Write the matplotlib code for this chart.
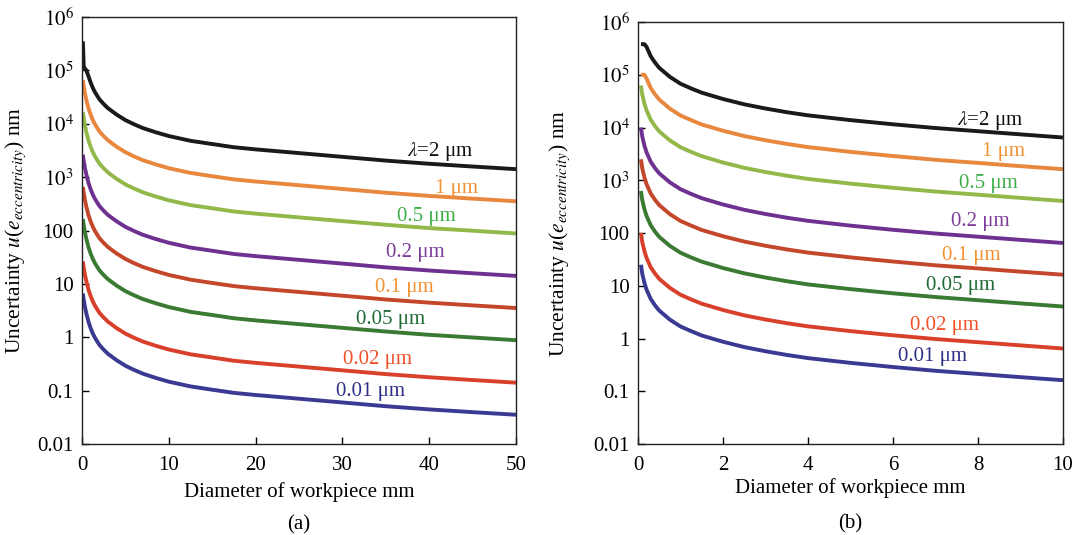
import matplotlib
matplotlib.use("Agg")
import matplotlib.pyplot as plt
from matplotlib.ticker import FixedLocator, FixedFormatter

plt.rcParams["font.family"] = ["Liberation Serif", "DejaVu Serif"]
plt.rcParams["mathtext.fontset"] = "stix"

# wavelength labels (top to bottom)
wave_labels = [r"$\lambda$=2 μm", "1 μm", "0.5 μm", "0.2 μm", "0.1 μm", "0.05 μm", "0.02 μm", "0.01 μm"]

# ---- panel (a): diameter 0-50 mm ----
d_a = [0.1, 0.2, 0.35, 0.5, 0.75, 1, 1.25, 1.5, 2, 2.5, 3, 4, 5, 6, 7, 8.5, 10,
       12.5, 15, 17.5, 20, 25, 30, 35, 40, 45, 50]
a_2um = [3.5e5, 1.15e5, 1.08e5, 1.0e5, 7.76e4, 5.89e4, 4.68e4, 3.89e4, 2.88e4, 2.34e4, 1.95e4,
         1.48e4, 1.17e4, 9.77e3, 8.32e3, 6.92e3, 5.89e3, 4.79e3, 4.17e3, 3.63e3, 3.31e3,
         2.82e3, 2.40e3, 2.04e3, 1.78e3, 1.58e3, 1.41e3]
a_1um = [6.6e4, 5.0e4, 3.63e4, 2.8e4, 1.94e4, 1.47e4, 1.17e4, 9.7e3, 7.2e3, 5.85e3, 4.88e3,
         3.7e3, 2.93e3, 2.44e3, 2.08e3, 1.73e3, 1.47e3, 1.2e3, 1.04e3, 908, 828,
         705, 600, 510, 445, 395, 353]
a_05um = [1.64e4, 1.25e4, 9.06e3, 7.0e3, 4.85e3, 3.68e3, 2.93e3, 2.43e3, 1.8e3, 1.46e3, 1.22e3,
          925, 731, 611, 520, 433, 368, 299, 261, 227, 207, 176, 150, 128, 111, 99, 88]
a_02um = [2630, 2000, 1450, 1120, 776, 589, 468, 389, 288, 234, 195,
          148, 117, 97.7, 83.2, 69.2, 58.9, 47.9, 41.7, 36.3, 33.1, 28.2, 24.0, 20.4, 17.8, 15.8, 14.1]
a_01um = [658, 500, 363, 280, 194, 147, 117, 97.3, 72, 58.5, 48.8,
          37, 29.3, 24.4, 20.8, 17.3, 14.7, 12.0, 10.4, 9.08, 8.28, 7.05, 6.0, 5.1, 4.45, 3.95, 3.53]
a_005um = [164, 125, 90.6, 70, 48.5, 36.8, 29.3, 24.3, 18, 14.6, 12.2,
           9.25, 7.31, 6.11, 5.2, 4.33, 3.68, 2.99, 2.61, 2.27, 2.07, 1.76, 1.5, 1.28, 1.11, 0.99, 0.88]
a_002um = [26.3, 20, 14.5, 11.2, 7.76, 5.89, 4.68, 3.89, 2.88, 2.34, 1.95,
           1.48, 1.17, 0.977, 0.832, 0.692, 0.589, 0.479, 0.417, 0.363, 0.331,
           0.282, 0.24, 0.204, 0.178, 0.158, 0.141]
a_001um = [6.58, 5.0, 3.63, 2.8, 1.94, 1.47, 1.17, 0.973, 0.72, 0.585, 0.488,
           0.37, 0.293, 0.244, 0.208, 0.173, 0.147, 0.12, 0.104, 0.0908, 0.0828,
           0.0705, 0.06, 0.051, 0.0445, 0.0395, 0.0353]
a_label_x = [41.3, 43.1, 39.7, 38.4, 37.1, 35.6, 34.0, 33.2]
a_label_y = [3.0e3, 600, 182, 38, 8.4, 2.11, 0.39, 0.095]

# ---- panel (b): diameter 0-10 mm ----
d_b = [0.07, 0.1, 0.15, 0.2, 0.3, 0.4, 0.5, 0.75, 1, 1.25, 1.5, 2, 2.5, 3, 3.5, 4, 5, 6, 7, 8, 9, 10]
b_2um = [3.8e5, 3.8e5, 3.8e5, 3.39e5, 2.24e5, 1.70e5, 1.35e5, 9.12e4, 6.76e4, 5.5e4, 4.57e4,
         3.47e4, 2.75e4, 2.29e4, 1.95e4, 1.70e4, 1.38e4, 1.15e4, 9.77e3, 8.51e3, 7.41e3, 6.46e3]
b_1um = [1.0e5, 1.0e5, 1.0e5, 8.5e4, 5.6e4, 4.25e4, 3.38e4, 2.28e4, 1.69e4, 1.38e4, 1.14e4,
         8.68e3, 6.88e3, 5.73e3, 4.88e3, 4.25e3, 3.45e3, 2.88e3, 2.44e3, 2.13e3, 1.85e3, 1.62e3]
b_05um = [6.25e4, 4.23e4, 2.86e4, 2.12e4, 1.4e4, 1.06e4, 8.44e3, 5.7e3, 4.23e3, 3.44e3, 2.86e3,
          2.17e3, 1.72e3, 1.43e3, 1.22e3, 1.06e3, 863, 719, 611, 532, 463, 404]
b_02um = [1.0e4, 6.76e3, 4.57e3, 3.39e3, 2.24e3, 1.7e3, 1.35e3, 912, 676, 550, 457,
          347, 275, 229, 195, 170, 138, 115, 97.7, 85.1, 74.1, 64.6]
b_01um = [2.5e3, 1.69e3, 1.14e3, 848, 560, 425, 338, 228, 169, 138, 114,
          86.8, 68.8, 57.3, 48.8, 42.5, 34.5, 28.8, 24.4, 21.3, 18.5, 16.2]
b_005um = [625, 423, 286, 212, 140, 106, 84.4, 57, 42.3, 34.4, 28.6,
           21.7, 17.2, 14.3, 12.2, 10.6, 8.63, 7.19, 6.11, 5.32, 4.63, 4.04]
b_002um = [100, 67.6, 45.7, 33.9, 22.4, 17, 13.5, 9.12, 6.76, 5.5, 4.57,
           3.47, 2.75, 2.29, 1.95, 1.7, 1.38, 1.15, 0.977, 0.851, 0.741, 0.646]
b_001um = [25, 16.9, 11.4, 8.48, 5.6, 4.25, 3.38, 2.28, 1.69, 1.38, 1.14,
           0.868, 0.688, 0.573, 0.488, 0.425, 0.345, 0.288, 0.244, 0.213, 0.185, 0.162]
b_label_x = [8.28, 8.61, 8.24, 8.05, 7.84, 7.58, 7.22, 6.92]
b_label_y = [1.38e4, 3.5e3, 870, 163, 38, 10.2, 1.8, 0.45]

line_colors = ["#1a1a1a", "#e8873e", "#93b84a", "#6e3191", "#c4472b", "#3b7a32", "#d8402b", "#3a3a92"]
text_colors = ["#111111", "#f39233", "#3fae49", "#7d3c98", "#f39233", "#1f6a35", "#f0502a", "#2e2f86"]

y_ticks = [0.01, 0.1, 1, 10, 100, 1e3, 1e4, 1e5, 1e6]
y_ticklabels = ["0.01", "0.1", "1", "10", "100", r"$10^3$", r"$10^4$", r"$10^5$", r"$10^6$"]

fs = 15


def draw_panel(ax, d, series, label_x, label_y, xmax, xticks, tag, xlabel_y, ylabel_x):
    for vals, c in zip(series, line_colors):
        ax.plot(d, vals, color=c, lw=2.8, solid_capstyle="butt", solid_joinstyle="round")
    for txt, lx, ly, c in zip(wave_labels, label_x, label_y, text_colors):
        ax.text(lx, ly, txt, color=c, fontsize=fs, ha="center", va="center")

    ax.set_yscale("log")
    ax.set_ylim(0.01, 1e6)
    ax.set_xlim(0, xmax)
    ax.yaxis.set_major_locator(FixedLocator(y_ticks))
    ax.yaxis.set_major_formatter(FixedFormatter(y_ticklabels))
    ax.yaxis.set_minor_locator(FixedLocator([]))
    ax.set_xticks(xticks)
    ax.tick_params(axis="both", direction="in", length=5, width=1, labelsize=fs)
    ax.tick_params(axis="y", pad=6)
    ax.tick_params(axis="x", pad=9)
    for s in ax.spines.values():
        s.set_linewidth(1.0)
        s.set_color("#222222")

    ax.set_xlabel("Diameter of workpiece mm", fontsize=fs)
    ax.xaxis.set_label_coords(0.5, xlabel_y)
    ax.set_ylabel(r"Uncertainty $u$($e_{eccentricity}$) nm", fontsize=15.5)
    ax.yaxis.set_label_coords(ylabel_x, 0.5)
    ax.text(0.5, -0.19, tag, transform=ax.transAxes, fontsize=fs, ha="center", va="center")


fig = plt.figure(figsize=(10.75, 5.35), dpi=100)
ax_a = fig.add_axes([82 / 1075, 91 / 535, 434 / 1075, 427 / 535])
ax_b = fig.add_axes([638 / 1075, 91 / 535, 425 / 1075, 422 / 535])

draw_panel(ax_a, d_a, [a_2um, a_1um, a_05um, a_02um, a_01um, a_005um, a_002um, a_001um],
           a_label_x, a_label_y, 50, [0, 10, 20, 30, 40, 50], "(a)", -0.09, -0.125)
draw_panel(ax_b, d_b, [b_2um, b_1um, b_05um, b_02um, b_01um, b_005um, b_002um, b_001um],
           b_label_x, b_label_y, 10, [0, 2, 4, 6, 8, 10], "(b)", -0.08, -0.155)

fig.savefig("out.png", dpi=100, facecolor="white")
